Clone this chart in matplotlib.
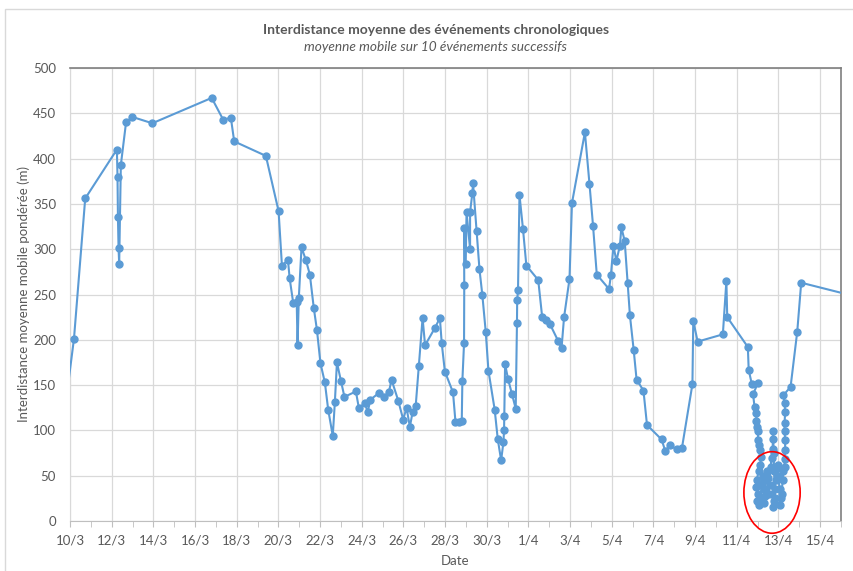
import matplotlib
matplotlib.use("Agg")
import matplotlib.pyplot as plt
from matplotlib.patches import Ellipse, Rectangle
import numpy as np

plt.rcParams['font.family'] = ['Lato', 'DejaVu Sans']

# x = days since 10/3, y = moyenne mobile (m)
days = [-0.3, 0.19, 0.73, 2.25, 2.28, 2.30, 2.33, 2.36, 2.44, 2.69, 2.99, 3.95,
        6.80, 7.35, 7.72, 7.88, 9.40, 10.01, 10.17, 10.46, 10.54, 10.71, 10.88,
        10.92, 10.98, 11.11, 11.32, 11.51, 11.70, 11.85, 12.02, 12.23, 12.39,
        12.61, 12.71, 12.81, 13.00, 13.17, 13.72, 13.86, 14.16, 14.28, 14.42,
        14.81, 15.06, 15.30, 15.43, 15.75, 15.99, 16.15, 16.31, 16.44, 16.59,
        16.74, 16.92, 17.04, 17.51, 17.75, 17.84, 17.99, 18.38, 18.50, 18.67,
        18.80, 18.83, 18.91, 18.92, 18.91, 18.99, 19.03, 19.20, 19.20, 19.31,
        19.34, 19.51, 19.65, 19.79, 19.95, 20.08, 20.38, 20.53, 20.69, 20.80,
        20.83, 20.84, 20.88, 21.02, 21.21, 21.39, 21.45, 21.46, 21.50, 21.57,
        21.74, 21.90, 22.47, 22.66, 22.85, 23.04, 23.42, 23.59, 23.71, 23.97,
        24.09, 24.71, 24.93, 25.10, 25.28, 25.87, 25.96, 26.08, 26.22, 26.39,
        26.46, 26.62, 26.76, 26.87, 27.05, 27.19, 27.52, 27.69, 28.39, 28.57,
        28.78, 29.11, 29.37, 29.87, 29.91, 30.12, 31.33, 31.50, 31.54, 32.53,
        32.57, 32.72, 33.01,
        # cluster 12/4 - 13/4
        32.78, 32.85, 32.93, 32.94, 32.97, 33.01, 33.02, 33.07, 33.09, 33.17,
        33.12, 33.05, 32.95, 32.90, 33.00, 32.95, 33.05, 33.14, 33.19, 33.24,
        33.29, 33.33, 33.31, 33.38, 33.43, 33.48, 33.53, 33.57, 33.62, 33.67,
        33.72, 33.73, 33.74, 33.77, 33.79, 33.81, 33.77, 33.72, 33.81, 33.86,
        33.91, 33.96, 34.00, 34.05, 34.10, 34.08, 34.15, 34.20, 34.24, 34.29,
        34.29, 34.32, 34.32, 34.29, 34.29, 34.32, 34.29, 34.24,
        34.58, 34.90, 35.09, 37.5]
values = [113, 201, 356, 410, 380, 336, 301, 284, 393, 440, 446, 439,
          467, 443, 445, 419, 403, 342, 282, 288, 268, 241, 242,
          194, 246, 302, 288, 272, 235, 211, 174, 153, 123,
          94, 131, 175, 155, 137, 143, 125, 130, 120, 134,
          141, 137, 142, 156, 133, 112, 125, 104, 120, 127,
          171, 224, 194, 213, 224, 196, 165, 142, 109, 109,
          110, 155, 196, 260, 323, 284, 341, 300, 341, 362,
          373, 320, 278, 249, 209, 166, 123, 90, 67, 87,
          100, 116, 173, 157, 140, 124, 219, 244, 255, 360,
          322, 282, 266, 225, 222, 217, 199, 191, 225, 267,
          351, 429, 372, 326, 272, 256, 272, 304, 287, 304,
          324, 309, 263, 227, 189, 156, 144, 106, 90, 77,
          84, 79, 81, 151, 221, 198, 206, 265, 225, 192,
          167, 151, 152,
          140, 126, 119, 110, 104, 99, 89, 84, 78, 71,
          62, 55, 45, 38, 30, 22, 18, 26, 40, 50,
          35, 28, 20, 45, 55, 48, 30, 40, 60, 70,
          80, 90, 99, 75, 55, 35, 22, 15, 25, 45,
          58, 62, 50, 35, 25, 18, 30, 45, 55, 60,
          68, 78, 89, 99, 108, 120, 130, 139,
          148, 209, 263, 249]

tick_labels = ['10/3', '12/3', '14/3', '16/3', '18/3', '20/3', '22/3', '24/3', '26/3',
               '28/3', '30/3', '1/4', '3/4', '5/4', '7/4', '9/4', '11/4', '13/4', '15/4']

blue = '#5B9BD5'
grey = '#595959'

fig = plt.figure(figsize=(8.54, 5.71), dpi=100)
ax = fig.add_axes([70 / 854, 1 - 521 / 571, 771 / 854, 453 / 571])

ax.plot(days, values, color=blue, lw=1.5, marker='o', ms=5, mec=blue, mfc=blue, zorder=3)

ax.set_xlim(0, 37)
ax.set_ylim(0, 500)
ax.set_xticks(np.arange(0, 37, 2))
ax.set_xticklabels(tick_labels)
ax.set_xticks(np.arange(1, 38, 2), minor=True)
ax.set_yticks(np.arange(0, 501, 50))
ax.grid(True, which='major', color='#D9D9D9', lw=0.9)
ax.set_axisbelow(True)

ax.tick_params(axis='x', which='both', length=4, color='#BFBFBF', labelsize=9.5,
               labelcolor=grey, pad=6)
ax.tick_params(axis='y', length=0, labelsize=9.5, labelcolor=grey, pad=10)

for s in ['left', 'bottom']:
    ax.spines[s].set_color('#D9D9D9')
for s in ['top', 'right']:
    ax.spines[s].set_color('#7F7F7F')
    ax.spines[s].set_linewidth(1.2)
ax.spines['bottom'].set_color('#BFBFBF')

ax.set_xlabel('Date', fontsize=9.5, color=grey, labelpad=6)
ax.set_ylabel('Interdistance moyenne mobile pondérée (m)', fontsize=9.5, color=grey)
ax.yaxis.set_label_coords(-40 / 771, 0.5)

fig.text(436 / 854, 1 - 30 / 571, 'Interdistance moyenne des événements chronologiques',
         ha='center', va='center', fontsize=10, fontweight='bold', color=grey)
fig.text(436 / 854, 1 - 47 / 571, 'moyenne mobile sur 10 événements successifs',
         ha='center', va='center', fontsize=9.8, style='italic', color=grey)

# red circle around the cluster
ell = Ellipse((33.69, 31.5), 2.7, 90, fill=False, ec='#FF0000', lw=1.2,
              clip_on=False, zorder=4)
ax.add_patch(ell)

# chart frame
fig.patches.append(Rectangle((5 / 854, -0.01), 1.0, 1 - 9 / 571 + 0.01,
                             transform=fig.transFigure, fill=False,
                             ec='#D9D9D9', lw=1.0))

fig.savefig('out.png', dpi=100)
